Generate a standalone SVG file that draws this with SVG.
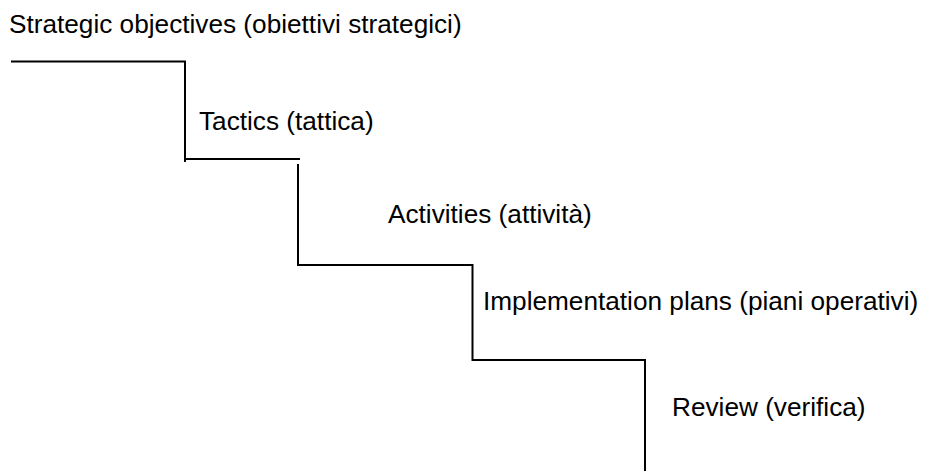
<svg xmlns="http://www.w3.org/2000/svg" width="929" height="473" viewBox="0 0 929 473">
  <style>
    .lbl { font-family: "Liberation Sans", Arial, sans-serif; font-size: 26.2px; fill: #000; }
    .step { fill: none; stroke: #000; stroke-width: 2; stroke-linecap: butt; }
  </style>
  <rect width="929" height="473" fill="#fff"/>
  <g id="connectors">
    <polyline class="step" points="11,61.5 185,61.5 185,162"/>
    <polyline class="step" points="185,159 300,159"/>
    <polyline class="step" points="298,164 298,265 472.5,265 472.5,360 645,360 645,471"/>
  </g>
  <g id="strategic"><text class="lbl" x="9" y="33">Strategic objectives (obiettivi strategici)</text></g>
  <g id="tactics"><text class="lbl" x="199" y="130">Tactics (tattica)</text></g>
  <g id="activities"><text class="lbl" x="388" y="223">Activities (attività)</text></g>
  <g id="implementation"><text class="lbl" x="483" y="310">Implementation plans (piani operativi)</text></g>
  <g id="review"><text class="lbl" x="672" y="416">Review (verifica)</text></g>
</svg>
